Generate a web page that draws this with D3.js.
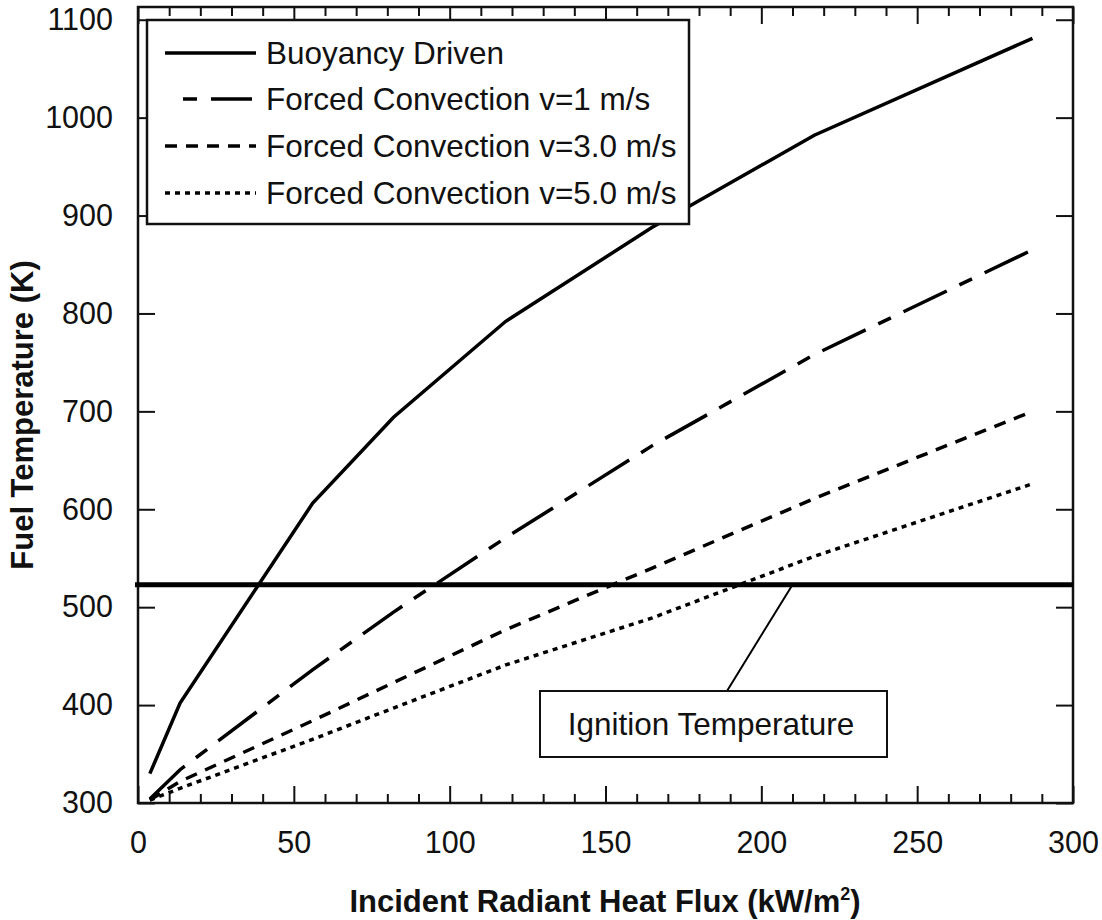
<!DOCTYPE html>
<html>
<head>
<meta charset="utf-8">
<script src="https://cdn.jsdelivr.net/npm/d3@7"></script>
<style>
  body{margin:0;background:#fff;}
  text{font-family:"Liberation Sans",Arial,sans-serif;fill:#111;}
</style>
</head>
<body>
<div id="chart"></div>
<script>
// sizes
const width=1102;
const height=920;
const plot={left:138,right:1073,top:7,bottom:803};
const tickFont=30.5;
const labelFont=31.5;

// data
const fluxValues=[3.8,13.5,56,82,118,165,217,287];   // kW/m2
const buoyancyTemp=[330,402,606,694,792,888,982,1081];
const forced1Temp=[304,334,436,495,571,665,758,865];
const forced3Temp=[303,322,384,423,477,540,611,700];
const forced5Temp=[303,315,365,397,441,489,552,626];
const ignitionTemp=523;

const seriesNames=["Buoyancy Driven","Forced Convection v=1 m/s","Forced Convection v=3.0 m/s","Forced Convection v=5.0 m/s"];
const seriesTemps=[buoyancyTemp,forced1Temp,forced3Temp,forced5Temp];
const dashes=[null,"48,14,14,14","12,9","5,5"];

const xTicksMajor=[0,50,100,150,200,250,300];
const xTicksMinor=d3.range(10,300,10).filter(d=>d%50!==0);
const yTicks=[300,400,500,600,700,800,900,1000,1100];

const svg=d3.select("#chart").append("svg").attr("width",width).attr("height",height);
svg.append("rect").attr("width",width).attr("height",height).attr("fill","#fff");

const x=d3.scaleLinear().domain([0,300]).range([plot.left,plot.right]);
const y=d3.scaleLinear().domain([300,1113]).range([plot.bottom,plot.top]);

// axes (ticks point inward)
function styleAxis(g){
    g.select(".domain").remove();
    g.selectAll(".tick line").attr("stroke","#111").attr("stroke-width",2);
    g.selectAll(".tick text").attr("font-size",tickFont).attr("font-family",null).attr("fill","#111");
}
svg.append("g").attr("transform",`translate(0,${plot.bottom})`)
    .call(d3.axisBottom(x).tickValues(xTicksMajor).tickSize(-17).tickPadding(28).tickFormat(d3.format("d")))
    .call(styleAxis);
svg.append("g").attr("transform",`translate(0,${plot.bottom})`)
    .call(d3.axisBottom(x).tickValues(xTicksMinor).tickSize(-9).tickFormat(""))
    .call(styleAxis);
svg.append("g").attr("transform",`translate(0,${plot.top})`)
    .call(d3.axisTop(x).tickValues(xTicksMajor).tickSize(-17).tickFormat(""))
    .call(styleAxis);
svg.append("g").attr("transform",`translate(0,${plot.top})`)
    .call(d3.axisTop(x).tickValues(xTicksMinor).tickSize(-9).tickFormat(""))
    .call(styleAxis);
svg.append("g").attr("transform",`translate(${plot.left},0)`)
    .call(d3.axisLeft(y).tickValues(yTicks).tickSize(-17).tickPadding(25).tickFormat(d3.format("d")))
    .call(styleAxis);
svg.append("g").attr("transform",`translate(${plot.right},0)`)
    .call(d3.axisRight(y).tickValues(yTicks).tickSize(-17).tickFormat(""))
    .call(styleAxis);

// frame
svg.append("rect")
    .attr("x",plot.left).attr("y",plot.top)
    .attr("width",plot.right-plot.left).attr("height",plot.bottom-plot.top)
    .attr("fill","none").attr("stroke","#111").attr("stroke-width",2.5);

// curves
const line=d3.line().x(d=>x(d[0])).y(d=>y(d[1]));
seriesTemps.forEach((temps,i)=>{
    svg.append("path")
        .datum(fluxValues.map((q,j)=>[q,temps[j]]))
        .attr("d",line)
        .attr("fill","none")
        .attr("stroke","#000")
        .attr("stroke-width",3.5)
        .attr("stroke-dasharray",dashes[i]);
});

// ignition temperature line
svg.append("line")
    .attr("x1",x(0)-3).attr("x2",x(300))
    .attr("y1",y(ignitionTemp)).attr("y2",y(ignitionTemp))
    .attr("stroke","#000").attr("stroke-width",5);

// annotation
svg.append("line")
    .attr("x1",x(210)).attr("y1",y(ignitionTemp))
    .attr("x2",727).attr("y2",691)
    .attr("stroke","#000").attr("stroke-width",2);
svg.append("rect")
    .attr("x",540).attr("y",691).attr("width",347).attr("height",66)
    .attr("fill","#fff").attr("stroke","#111").attr("stroke-width",2);
svg.append("text")
    .attr("x",711).attr("y",735)
    .attr("text-anchor","middle")
    .attr("font-size",labelFont)
    .text("Ignition Temperature");

// legend
const legend=svg.append("g");
legend.append("rect")
    .attr("x",147).attr("y",20).attr("width",542).attr("height",204)
    .attr("fill","#fff").attr("stroke","#111").attr("stroke-width",2.5);
const rowY=[53,99,146,193];
seriesNames.forEach((name,i)=>{
    const ln=legend.append("line")
        .attr("x1",i===1?183:165).attr("x2",i===1?252:256)
        .attr("y1",rowY[i]).attr("y2",rowY[i])
        .attr("stroke","#000").attr("stroke-width",3.5)
        .attr("stroke-dasharray",dashes[i]);
    if(i===1) ln.attr("stroke-dashoffset",62);
    legend.append("text")
        .attr("x",266).attr("y",rowY[i]+11)
        .attr("font-size",labelFont)
        .text(name);
});

// axis titles
svg.append("text")
    .attr("transform","translate(33,415) rotate(-90)")
    .attr("text-anchor","middle")
    .attr("font-size",31)
    .attr("font-weight","bold")
    .text("Fuel Temperature (K)");
const xTitle=svg.append("text")
    .attr("x",605).attr("y",912)
    .attr("text-anchor","middle")
    .attr("font-size",31)
    .attr("font-weight","bold");
xTitle.append("tspan").text("Incident Radiant Heat Flux (kW/m");
xTitle.append("tspan").attr("font-size",18).attr("dy",-12).text("2");
xTitle.append("tspan").attr("dy",12).text(")");
</script>
</body>
</html>
